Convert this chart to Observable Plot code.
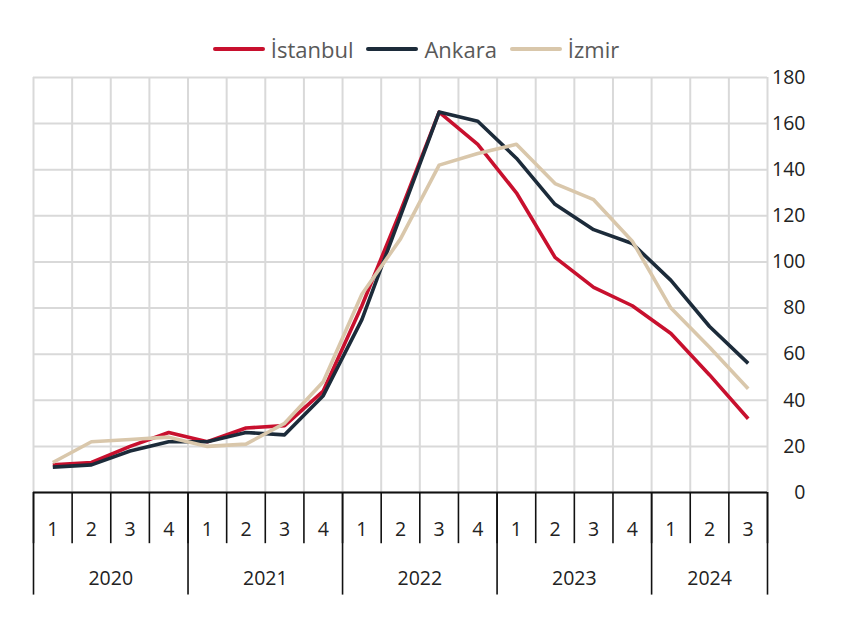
<!DOCTYPE html>
<html><head><meta charset="utf-8">
<script src="https://cdn.jsdelivr.net/npm/d3@7"></script>
<script src="https://cdn.jsdelivr.net/npm/@observablehq/plot@0.6"></script>
<style>
body{margin:0;background:#fff;font-family:"Open Sans",sans-serif;}
#legend{height:55px;display:flex;justify-content:center;align-items:flex-start;gap:13px;padding-right:26px;box-sizing:border-box;padding-top:34px;}
.item{display:flex;align-items:center;font-size:22px;color:#595959;line-height:30px;}
.sw{width:52px;height:4px;border-radius:2px;margin-right:6px;}
#chart svg{overflow:visible;}
</style></head>
<body>
<div id="legend"></div>
<div id="chart"></div>
<script>
const quarters = ["1","2","3","4","1","2","3","4","1","2","3","4","1","2","3","4","1","2","3"];
const years = ["2020","2021","2022","2023","2024"];
const yearQuarterCounts = [4,4,4,4,3];
const istanbul = [12,13,20,26,22,28,29,44,81,122,165,151,130,102,89,81,69,51,32];
const ankara   = [11,12,18,22,22,26,25,42,75,120,165,161,145,125,114,108,92,72,56];
const izmir    = [13,22,23,24,20,21,30,48,86,110,142,147,151,134,127,109,80,63,45];
const seriesNames = ["İstanbul","Ankara","İzmir"];
const seriesColors = ["#c8102e","#1c2b3a","#d9c7ab"];
const yTicks = [0,20,40,60,80,100,120,140,160,180];

const leg = document.getElementById("legend");
seriesNames.forEach((n,i)=>{
  const d=document.createElement("div");d.className="item";
  d.innerHTML=`<span class="sw" style="background:${seriesColors[i]}"></span>${n}`;
  leg.appendChild(d);
});

const data = [];
[istanbul, ankara, izmir].forEach((arr,s)=>arr.forEach((v,i)=>data.push({i, v, s: seriesNames[s]})));

const n = quarters.length;
const bounds = d3.range(n+1).map(k=>k-0.5);
const qLabels = quarters.map((q,i)=>({i,q}));
let acc=0; const yearBounds=[-0.5]; const yearLabels=[];
years.forEach((y,k)=>{ yearLabels.push({x: acc-0.5 + yearQuarterCounts[k]/2, y}); acc+=yearQuarterCounts[k]; yearBounds.push(acc-0.5); });

const QB = -22.2, YB = -44.5, QL = -16.3, YL = -37.2;

const plot = Plot.plot({
  width: 858, height: 574,
  marginTop: 22, marginBottom: 137, marginLeft: 33, marginRight: 91,
  x: {domain: [-0.5, n-0.5], axis: null},
  y: {domain: [0,180], axis: null},
  color: {domain: seriesNames, range: seriesColors},
  style: {fontFamily: "'Open Sans', sans-serif"},
  marks: [
    Plot.ruleY(yTicks, {stroke: "#d9d9d9", strokeWidth: 2, strokeOpacity: 1}),
    Plot.ruleX(bounds, {y1: 0, y2: 180, stroke: "#d9d9d9", strokeWidth: 2, strokeOpacity: 1}),
    Plot.text(yTicks, {y: d=>d, frameAnchor: "right", textAnchor: "end", dx: 38, text: d=>String(d), fontSize: 19.5, fill: "#222"}),
    Plot.line(data, {x: "i", y: "v", z: "s", stroke: "s", strokeWidth: 3.6, strokeLinejoin: "round", strokeLinecap: "butt"}),
    Plot.ruleY([0], {stroke: "#111", strokeWidth: 2}),
    Plot.ruleX(bounds, {y1: 0, y2: QB, stroke: "#111", strokeWidth: 1.6, clip: false}),
    Plot.ruleX(yearBounds, {y1: 0, y2: YB, stroke: "#111", strokeWidth: 1.6, clip: false}),
    Plot.text(qLabels, {x: "i", y: QL, text: "q", fontSize: 19.5, fill: "#222"}),
    Plot.text(yearLabels, {x: "x", y: YL, text: "y", fontSize: 19.5, fill: "#222"})
  ]
});
document.getElementById("chart").appendChild(plot);
</script>
</body></html>
